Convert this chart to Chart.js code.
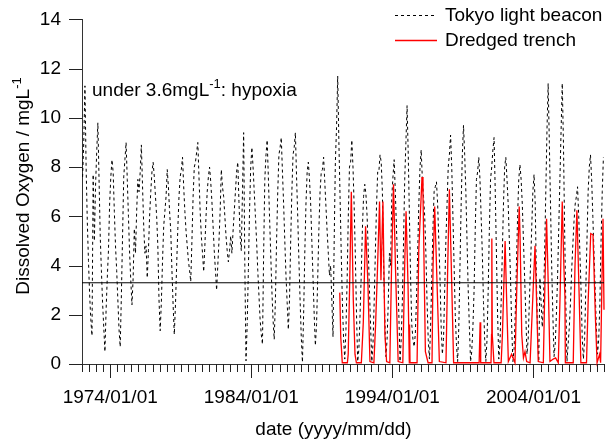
<!DOCTYPE html>
<html><head><meta charset="utf-8">
<script src="https://cdn.jsdelivr.net/npm/chart.js@4.4.1/dist/chart.umd.min.js"></script>
<style>html,body{margin:0;padding:0;background:#fff;}#wrap{width:612px;height:442px;}</style>
</head><body><div id="wrap"><canvas id="c" width="612" height="442"></canvas></div>
<script>
const FONT = "'Liberation Sans', Arial, Helvetica, sans-serif";
const xMin = 1972, xMax = 2009;
const xMajorTicks = [1974, 1984, 1994, 2004];
const xTickLabels = ['1974/01/01', '1984/01/01', '1994/01/01', '2004/01/01'];
const yTicks = [0, 2, 4, 6, 8, 10, 12, 14];
const seriesNames = ['Tokyo light beacon', 'Dredged trench'];
const hypoxiaLevel = 3.3;

// Tokyo light beacon: monthly values, Jan 1972 ... Dec 2008
const beaconStartYear = 1972;
const beaconDO = [
/*1972*/ 7.6, 9.0, 11.3, 8.0, 5.8, 4.2, 2.8, 1.8, 1.15, 7.7, 5.0, 7.2,
/*1973*/ 8.6, 9.8, 7.5, 5.2, 3.8, 2.5, 1.5, 0.5, 2.2, 3.5, 4.6, 6.5,
/*1974*/ 7.6, 8.3, 7.8, 6.2, 4.8, 3.8, 2.6, 1.4, 0.7, 2.8, 5.2, 7.6,
/*1975*/ 8.3, 9.0, 7.5, 6.0, 4.5, 3.4, 2.4, 3.5, 5.5, 4.5, 6.2, 7.5,
/*1976*/ 7.0, 7.8, 8.9, 7.2, 5.6, 4.5, 4.8, 3.5, 4.6, 6.0, 7.0, 7.8,
/*1977*/ 8.2, 7.6, 6.8, 6.0, 4.8, 2.6, 1.35, 2.5, 4.2, 5.6, 6.2, 6.8,
/*1978*/ 7.9, 7.2, 6.2, 5.4, 3.8, 2.4, 1.2, 2.4, 4.0, 5.5, 6.8, 7.6,
/*1979*/ 7.9, 8.4, 7.2, 6.2, 5.4, 4.8, 4.2, 3.8, 3.35, 5.0, 6.8, 8.0,
/*1980*/ 8.2, 8.6, 9.0, 7.6, 6.2, 5.2, 4.5, 3.75, 4.8, 6.0, 7.0, 7.6,
/*1981*/ 8.0, 7.4, 6.6, 5.6, 4.6, 3.8, 3.0, 4.0, 5.0, 6.2, 7.9, 7.2,
/*1982*/ 6.8, 6.0, 5.2, 4.6, 4.15, 4.6, 5.2, 4.5, 5.4, 6.2, 7.0, 7.8,
/*1983*/ 8.2, 6.6, 5.2, 4.6, 7.0, 9.4, 4.0, 0.13, 1.6, 3.8, 6.2, 8.0,
/*1984*/ 8.8, 8.0, 7.0, 6.0, 5.0, 3.8, 2.8, 1.8, 1.2, 0.8, 4.5, 7.5,
/*1985*/ 8.5, 9.1, 7.6, 6.0, 4.5, 3.0, 1.8, 1.0, 2.6, 5.0, 7.0, 8.5,
/*1986*/ 8.8, 9.2, 7.8, 6.5, 5.0, 3.6, 2.5, 1.4, 2.6, 5.0, 7.0, 8.5,
/*1987*/ 8.8, 9.4, 7.6, 6.0, 4.2, 2.6, 1.1, 0.07, 2.0, 4.5, 6.5, 7.8,
/*1988*/ 8.2, 7.5, 6.5, 5.0, 3.5, 2.0, 0.75, 1.6, 3.5, 5.5, 7.0, 7.8,
/*1989*/ 7.9, 8.4, 7.4, 6.4, 5.4, 4.5, 3.6, 4.0, 2.6, 1.1, 5.0, 8.2,
/*1990*/ 9.6, 11.7, 9.0, 6.8, 4.5, 2.5, 1.0, 0.2, 1.4, 3.4, 6.0, 8.0,
/*1991*/ 8.2, 9.1, 8.0, 6.4, 4.4, 2.0, 0.1, 0.6, 2.0, 3.6, 5.5, 6.8,
/*1992*/ 7.3, 6.9, 6.0, 4.6, 3.0, 1.5, 0.1, 0.8, 2.5, 4.5, 6.4, 7.8,
/*1993*/ 7.8, 8.5, 8.2, 7.0, 4.2, 2.0, 0.3, 1.0, 2.5, 4.5, 4.0, 6.8,
/*1994*/ 7.6, 8.3, 7.0, 5.5, 4.0, 2.0, 0.1, 1.0, 2.6, 5.0, 7.5, 9.0,
/*1995*/ 10.5, 8.5, 6.0, 3.5, 1.6, 1.0, 0.7, 1.2, 2.6, 4.5, 6.5, 8.0,
/*1996*/ 8.7, 7.5, 6.8, 6.0, 4.5, 2.5, 1.0, 0.2, 1.5, 3.5, 5.5, 7.0,
/*1997*/ 7.2, 7.4, 6.5, 5.0, 3.5, 1.5, 0.4, 1.0, 3.0, 5.0, 6.5, 8.0,
/*1998*/ 8.5, 9.3, 8.0, 6.0, 4.0, 2.0, 0.8, 0.1, 1.5, 4.0, 6.5, 8.5,
/*1999*/ 9.7, 8.5, 7.0, 5.0, 3.0, 1.5, 0.1, 0.5, 1.5, 3.0, 5.5, 7.5,
/*2000*/ 7.8, 8.4, 7.5, 6.0, 4.5, 2.5, 1.0, 0.1, 1.0, 3.0, 5.5, 7.5,
/*2001*/ 8.0, 8.7, 9.2, 7.0, 4.5, 2.0, 0.2, 0.8, 2.5, 4.5, 6.5, 8.0,
/*2002*/ 8.4, 7.5, 6.5, 5.0, 3.5, 1.5, 0.1, 0.6, 2.0, 4.0, 6.0, 7.5,
/*2003*/ 8.1, 7.5, 6.5, 5.0, 3.5, 2.0, 0.4, 1.0, 2.5, 4.0, 5.5, 7.0,
/*2004*/ 7.7, 6.5, 3.5, 1.2, 0.1, 3.5, 2.5, 1.5, 2.5, 4.5, 7.0, 9.5,
/*2005*/ 11.4, 9.0, 6.5, 4.0, 2.0, 0.3, 0.8, 2.0, 3.5, 5.5, 7.5, 9.5,
/*2006*/ 11.4, 9.0, 5.5, 2.5, 0.1, 0.8, 1.5, 2.5, 3.8, 4.85, 5.8, 6.5,
/*2007*/ 6.8, 7.2, 6.0, 4.5, 3.0, 1.0, 0.2, 1.0, 3.0, 5.0, 7.0, 8.0,
/*2008*/ 8.5, 7.5, 6.0, 4.5, 3.0, 1.5, 0.4, 1.0, 2.5, 5.0, 7.0, 8.4
];

// Dredged trench: sample dates (decimal years) and values
const trenchDates = [
 1990.27, 1990.34, 1990.45, 1990.81, 1990.87, 1990.98, 1991.09, 1991.23, 1991.35, 1991.45,
 1991.80, 1991.94, 1992.10, 1992.27, 1992.41, 1992.69, 1992.81, 1992.93, 1993.09, 1993.19,
 1993.33, 1993.47, 1993.59, 1993.82, 1993.94, 1994.08, 1994.22, 1994.41, 1994.74, 1994.88,
 1994.97, 1995.11, 1995.20, 1995.22, 1995.25, 1995.75, 1995.87, 1996.10, 1996.17, 1996.34,
 1996.53, 1996.81, 1996.88, 1997.00, 1997.17, 1997.33, 1997.80, 1997.92, 1998.04, 1998.18,
 1998.34, 2000.15, 2000.22, 2000.26, 2000.99, 2001.03, 2001.05, 2001.08, 2001.20, 2001.71,
 2001.80, 2001.99, 2002.10, 2002.22, 2002.45, 2002.69, 2002.81, 2002.99, 2003.05, 2003.17,
 2003.29, 2003.40, 2003.52, 2003.76, 2003.99, 2004.11, 2004.22, 2004.34, 2004.70, 2004.81,
 2004.93, 2005.05, 2005.17, 2005.40, 2005.57, 2005.76, 2005.88, 2006.04, 2006.16, 2006.23,
 2006.26, 2006.82, 2006.94, 2007.08, 2007.22, 2007.36, 2007.76, 2007.88, 2008.06, 2008.22,
 2008.39, 2008.51, 2008.69, 2008.76, 2008.85, 2008.93, 2009.00
];
const trenchDO = [
 2.9, 1.1, 0.05, 0.05, 0.4, 3.5, 7.0, 2.6, 0.4, 0.05,
 0.05, 1.7, 5.6, 3.2, 0.1, 0.05, 1.6, 3.6, 6.6, 3.4,
 6.6, 1.2, 0.1, 0.05, 3.9, 7.3, 3.9, 0.1, 0.05, 4.2,
 6.2, 3.2, 0.05, 1.6, 0.05, 0.05, 4.6, 7.6, 6.9, 0.5,
 0.05, 0.05, 3.9, 6.4, 3.2, 0.1, 0.05, 3.9, 7.1, 3.9,
 0.05, 0.05, 1.7, 0.05, 0.05, 1.2, 5.1, 1.2, 0.05, 0.05,
 1.2, 5.0, 2.6, 0.1, 0.4, 0.05, 2.9, 6.4, 5.2, 1.2,
 0.25, 0.5, 0.1, 0.05, 3.2, 4.8, 2.6, 0.1, 0.05, 3.2,
 5.9, 3.2, 0.1, 0.2, 0.25, 0.05, 2.6, 6.6, 3.9, 2.75,
 0.05, 0.05, 3.9, 6.25, 3.2, 0.05, 0.05, 2.6, 5.3, 5.25,
 1.9, 0.05, 0.4, 0.05, 3.2, 5.9, 2.2
];

const beaconData = beaconDO.map((v, i) => ({ x: beaconStartYear + (i + 0.5) / 12, y: v }));
const trenchData = trenchDates.map((d, i) => ({ x: d, y: trenchDO[i] }));
const hypoxiaData = [{ x: xMin, y: hypoxiaLevel }, { x: xMax, y: hypoxiaLevel }];

// tick marks drawn through the chart's own scales (major ticks longer)
const tickPlugin = {
  id: 'tickmarks',
  afterDraw(chart) {
    const sx = chart.scales.x, sy = chart.scales.y;
    const ctx = chart.ctx;
    ctx.save();
    ctx.strokeStyle = '#222';
    ctx.lineWidth = 1;
    ctx.setLineDash([]);
    ctx.beginPath();
    sx.ticks.forEach(t => {
      const px = Math.round(sx.getPixelForValue(t.value)) + 0.5;
      const len = xMajorTicks.includes(t.value) ? 14 : 8;
      ctx.moveTo(px, sx.top);
      ctx.lineTo(px, sx.top + len);
    });
    sy.ticks.forEach(t => {
      const py = Math.round(sy.getPixelForValue(t.value)) + 0.5;
      ctx.moveTo(sy.right - 13, py);
      ctx.lineTo(sy.right, py);
    });
    ctx.stroke();
    ctx.restore();
  }
};

const textPlugin = {
  id: 'texts',
  afterDraw(chart) {
    const ctx = chart.ctx;
    ctx.save();
    ctx.fillStyle = '#000';
    const rows = [
      { y: 15, color: '#000', dash: [3, 3], w: 1, name: seriesNames[0] },
      { y: 40, color: '#ff0000', dash: [], w: 1.3, name: seriesNames[1] }
    ];
    ctx.font = '19px ' + FONT;
    ctx.textBaseline = 'middle';
    ctx.textAlign = 'left';
    rows.forEach(r => {
      ctx.beginPath();
      ctx.setLineDash(r.dash);
      ctx.strokeStyle = r.color;
      ctx.lineWidth = r.w;
      ctx.moveTo(395, r.y + 0.5);
      ctx.lineTo(437, r.y + 0.5);
      ctx.stroke();
      ctx.fillText(r.name, 445, r.y + 1);
    });
    ctx.setLineDash([]);
    const drawSup = (x, y, parts) => {
      let cx = x;
      parts.forEach(p => {
        ctx.font = (p.sup ? '13px ' : '19px ') + FONT;
        ctx.fillText(p.t, cx, p.sup ? y - 8 : y);
        cx += ctx.measureText(p.t).width;
      });
      return cx - x;
    };
    const measure = parts => parts.reduce((s, p) => {
      ctx.font = (p.sup ? '13px ' : '19px ') + FONT;
      return s + ctx.measureText(p.t).width;
    }, 0);
    ctx.textBaseline = 'alphabetic';
    drawSup(92, 95.5, [{ t: 'under 3.6mgL' }, { t: '-1', sup: true }, { t: ': hypoxia' }]);
    const yParts = [{ t: 'Dissolved Oxygen / mgL' }, { t: '-1', sup: true }];
    const W = measure(yParts);
    ctx.save();
    ctx.translate(29, 186);
    ctx.rotate(-Math.PI / 2);
    drawSup(-W / 2, 0, yParts);
    ctx.restore();
    ctx.font = '19px ' + FONT;
    ctx.textAlign = 'center';
    ctx.fillText('date (yyyy/mm/dd)', 333.5, 435);
    ctx.restore();
  }
};

new Chart(document.getElementById('c'), {
  type: 'line',
  data: {
    datasets: [
      { label: 'hypoxia', data: hypoxiaData, borderColor: '#000', borderWidth: 1, pointRadius: 0, order: 0, clip: false },
      { label: seriesNames[1], data: trenchData, borderColor: '#ff0000', borderWidth: 1.3, pointRadius: 0, order: 1, clip: false },
      { label: seriesNames[0], data: beaconData, borderColor: '#000', borderWidth: 1, borderDash: [3, 3], pointRadius: 0, order: 2, clip: false }
    ]
  },
  options: {
    responsive: false,
    animation: false,
    devicePixelRatio: 1,
    layout: { padding: { left: 0, top: 16, right: 6, bottom: 0 } },
    plugins: { legend: { display: false }, tooltip: { enabled: false } },
    elements: { line: { tension: 0 } },
    scales: {
      x: {
        type: 'linear', min: xMin, max: xMax,
        afterBuildTicks(s) {
          const t = [];
          for (let v = xMin; v <= xMax + 1e-9; v += 0.5) t.push({ value: v });
          s.ticks = t;
        },
        afterFit(s) { s.height = 78; },
        grid: { drawOnChartArea: false, tickLength: 14, tickColor: 'rgba(0,0,0,0)' },
        border: { color: '#333', width: 1 },
        ticks: {
          autoSkip: false, maxRotation: 0, minRotation: 0, padding: 8, color: '#000',
          font: { family: FONT, size: 19 },
          callback(v) { const i = xMajorTicks.indexOf(v); return i >= 0 ? xTickLabels[i] : ''; }
        }
      },
      y: {
        min: 0, max: 14,
        afterBuildTicks(s) { s.ticks = yTicks.map(v => ({ value: v })); },
        afterFit(s) { s.width = 82; },
        grid: { drawOnChartArea: false, tickLength: 13, tickColor: 'rgba(0,0,0,0)' },
        border: { color: '#333', width: 1 },
        ticks: { padding: 8, color: '#000', font: { family: FONT, size: 19 } }
      }
    }
  },
  plugins: [tickPlugin, textPlugin]
});
</script>
</body></html>
